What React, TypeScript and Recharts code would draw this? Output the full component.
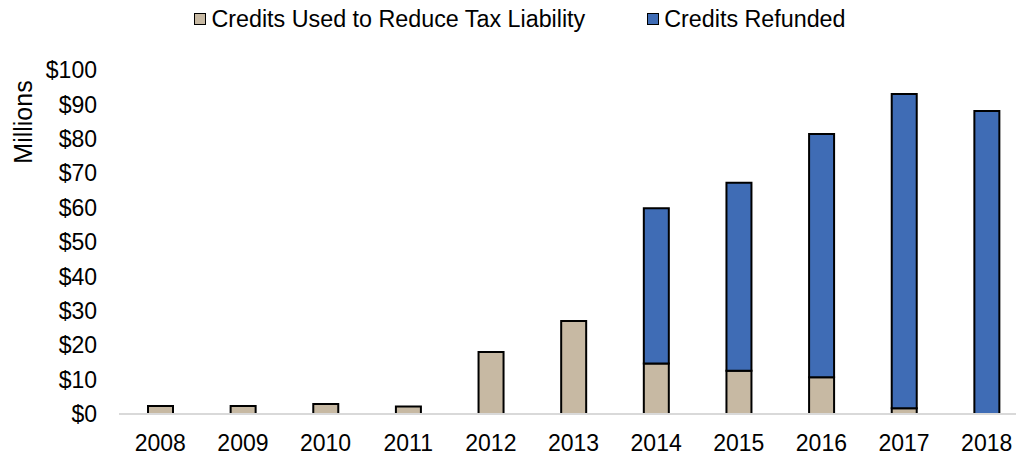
import React from 'react'
import { BarChart, Bar, XAxis, YAxis, Legend } from 'recharts'

const years = ['2008', '2009', '2010', '2011', '2012', '2013', '2014', '2015', '2016', '2017', '2018']
const usedToReduce = [2.3, 2.3, 2.9, 2.2, 18.0, 27.0, 14.7, 12.6, 10.7, 1.7, 0]
const refunded = [0, 0, 0, 0, 0, 0, 45.1, 54.6, 70.7, 91.3, 88.1]
const yTicks = [0, 10, 20, 30, 40, 50, 60, 70, 80, 90, 100]

const TAN = '#C7B9A3'
const BLUE = '#3F6CB5'
const FONT = '"Liberation Sans", Arial, sans-serif'

const data = years.map((year, i) => ({
  year,
  used: usedToReduce[i],
  refunded: refunded[i],
}))

const legendItems = [
  { name: 'Credits Used to Reduce Tax Liability', color: TAN },
  { name: 'Credits Refunded', color: BLUE },
]

function ChartLegend() {
  return (
    <div
      style={{
        display: 'flex',
        justifyContent: 'center',
        alignItems: 'center',
        height: 38,
        fontFamily: FONT,
        fontSize: 23.3,
        color: '#000',
      }}
    >
      {legendItems.map((item, i) => (
        <div key={item.name} style={{ display: 'flex', alignItems: 'center', marginLeft: i ? 62 : 0 }}>
          <span
            style={{
              display: 'inline-block',
              width: 10,
              height: 10,
              background: item.color,
              border: '1.5px solid #000',
              marginRight: 5,
            }}
          />
          <span>{item.name}</span>
        </div>
      ))}
    </div>
  )
}

function MillionsLabel() {
  return (
    <text
      x={32}
      y={122}
      transform="rotate(-90, 32, 122)"
      textAnchor="middle"
      fontFamily={FONT}
      fontSize={25}
      fill="#000"
    >
      Millions
    </text>
  )
}

export default function App() {
  return (
    <div style={{ position: 'absolute', left: 0, top: 0, width: 1016, height: 457, overflow: 'hidden', background: '#fff' }}>
      <BarChart
        width={1040}
        height={457}
        data={data}
        margin={{ top: 32, right: 12, bottom: 0, left: 0 }}
        barSize={25}
      >
        <Legend verticalAlign="top" content={<ChartLegend />} wrapperStyle={{ top: 0, left: 0, width: 1040 }} />
        <XAxis
          dataKey="year"
          height={43}
          tickLine={false}
          tickMargin={15}
          axisLine={{ stroke: '#d9d9d9', strokeWidth: 2 }}
          tick={{ fill: '#000', fontSize: 23, fontFamily: FONT }}
          interval={0}
        />
        <YAxis
          width={119}
          domain={[0, 100]}
          ticks={yTicks}
          tickLine={false}
          axisLine={false}
          tickMargin={16}
          tickFormatter={(v) => `$${v}`}
          tick={{ fill: '#000', fontSize: 23, fontFamily: FONT }}
          label={<MillionsLabel />}
        />
        <Bar dataKey="used" stackId="a" fill={TAN} stroke="#000" strokeWidth={2} isAnimationActive={false} />
        <Bar dataKey="refunded" stackId="a" fill={BLUE} stroke="#000" strokeWidth={2} isAnimationActive={false} />
      </BarChart>
    </div>
  )
}
